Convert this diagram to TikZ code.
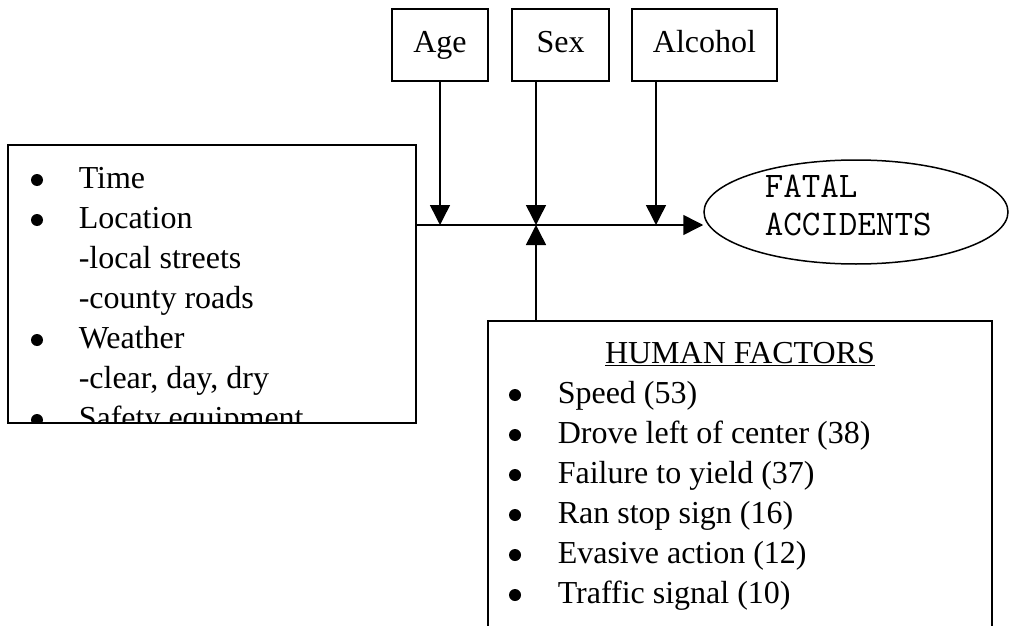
\documentclass[tikz,border=0pt]{standalone}
\usepackage{fontspec}
\setmainfont{Liberation Serif}
\usetikzlibrary{arrows.meta,shapes.geometric}
\begin{document}
\begin{tikzpicture}[x=1pt,y=-1pt, line width=1.5pt,
  font=\fontsize{32}{40}\selectfont,
  box/.style={draw, rectangle, inner sep=0pt},
  arr/.style={-{Triangle[length=20pt,width=20pt]}},
  dot/.style={circle, fill, inner sep=0pt, minimum size=12pt},
  txt/.style={anchor=base west, inner sep=0pt},
  monotxt/.style={txt, font=\ttfamily\fontsize{36}{38}\selectfont},
  toplabel/.style={box, minimum height=72pt, text height=22pt, text depth=6pt}]
\useasboundingbox (0,0) rectangle (1010,626);
\clip (0,0) rectangle (1010,626);

% top boxes
\node[toplabel, minimum width=96pt] (age) at (440,45) {Age};
\node[toplabel, minimum width=97pt] (sex) at (560.5,45) {Sex};
\node[toplabel, minimum width=145pt] (alc) at (704.5,45) {Alcohol};

% left box
\node[box, minimum width=408pt, minimum height=278pt] (left) at (212,284) {};
\begin{scope}
  \clip (left.south west) rectangle (left.north east);
  \node[dot] (lb1) at (37,180) {};
  \node[txt] (lt1) at (78,188) {Time};
  \node[dot] (lb2) at (37,220) {};
  \node[txt] (lt2) at (78,228) {Location};
  \node[txt] (lt3) at (78,268) {-local streets};
  \node[txt] (lt4) at (78,308) {-county roads};
  \node[dot] (lb3) at (37,340) {};
  \node[txt] (lt5) at (78,348) {Weather};
  \node[txt] (lt6) at (78,388) {-clear, day, dry};
  \node[dot] (lb4) at (37,420) {};
  \node[txt] (lt7) at (78,428) {Safety equipment};
\end{scope}

% ellipse
\node[ellipse, draw, minimum width=304pt, minimum height=104pt, inner sep=0pt] (fatal) at (856,212) {};
\node[monotxt] (fatal1) at (764,197) {FATAL};
\node[monotxt] (fatal2) at (764,235) {ACCIDENTS};

% human factors box
\node[box, minimum width=504pt, minimum height=340pt] (human) at (740,491) {};
\node[anchor=base, inner sep=0pt] (hf) at (740,363) {\underline{HUMAN FACTORS}};
\node[dot] (hb1) at (515,395) {};
\node[txt] (ht1) at (557,403) {Speed (53)};
\node[dot] (hb2) at (515,435) {};
\node[txt] (ht2) at (557,443) {Drove left of center (38)};
\node[dot] (hb3) at (515,475) {};
\node[txt] (ht3) at (557,483) {Failure to yield (37)};
\node[dot] (hb4) at (515,515) {};
\node[txt] (ht4) at (557,523) {Ran stop sign (16)};
\node[dot] (hb5) at (515,555) {};
\node[txt] (ht5) at (557,563) {Evasive action (12)};
\node[dot] (hb6) at (515,595) {};
\node[txt] (ht6) at (557,603) {Traffic signal (10)};

% junctions
\coordinate (mainy) at (0,225);
\coordinate (j1) at (440,225);
\coordinate (j2) at (536,225);
\coordinate (j3) at (656,225);

% connectors
\draw[arr] (left.east |- mainy) -- (fatal.west |- mainy);
\draw[arr] (age.south -| j1) -- (j1);
\draw[arr] (sex.south -| j2) -- (j2);
\draw[arr] (alc.south -| j3) -- (j3);
\draw[arr] (human.north -| j2) -- (j2);
\end{tikzpicture}
\end{document}
